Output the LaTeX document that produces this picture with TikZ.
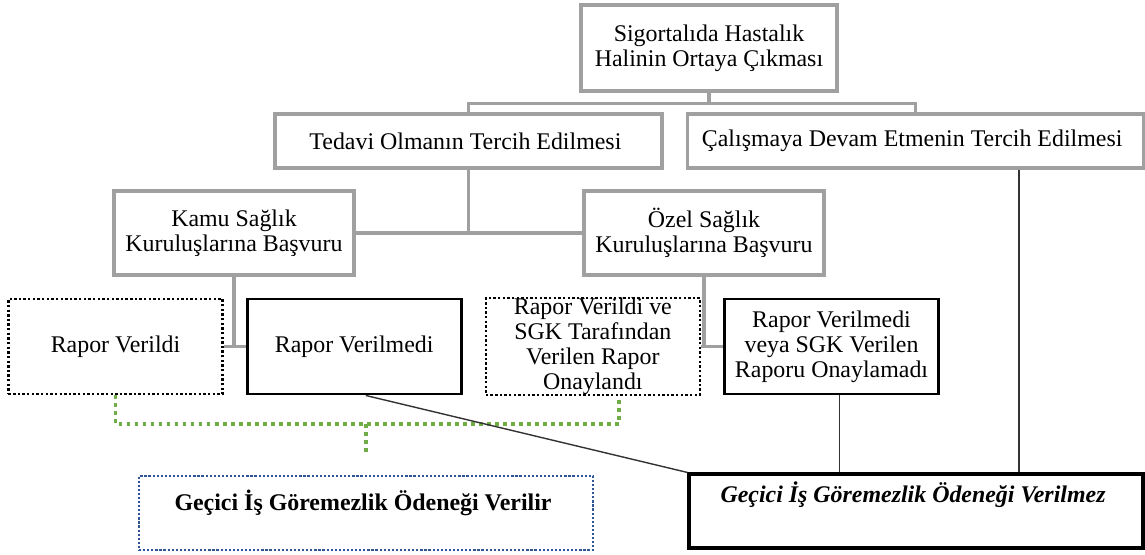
\documentclass[tikz,border=0pt]{standalone}
\usepackage{fontspec}
\setmainfont{Liberation Serif}
\usepackage{xcolor}
\usepackage{tikz}
\usetikzlibrary{positioning, calc}
\definecolor{FrameGray}{HTML}{A0A0A0}
\definecolor{PaidGreen}{HTML}{70AD47}
\definecolor{PaidBlue}{HTML}{2F5597}

\begin{document}
\begin{tikzpicture}[
    box/.style={
      align=center, inner sep=0pt, font=\fontsize{17}{17.8}\selectfont
    },
    graybox/.style={box, draw=FrameGray, line width=2.3pt},
    repbox/.style={box, minimum width=5.35cm, minimum height=2.375cm},
    blackbox/.style={repbox, draw=black, line width=2.1pt},
    dotbox/.style={repbox, draw=black, line width=1.7pt, dash pattern=on 1.7pt off 1.6pt},
    result/.style={
      box, minimum width=11.35cm, minimum height=1.85cm, text height=12pt
    },
    link/.style={draw=FrameGray, line width=2.3pt},
    lead/.style={draw=black!80, line width=1pt},
    paid/.style={draw=PaidGreen, line width=2.7pt, dash pattern=on 2.7pt off 3pt}
  ]
    \useasboundingbox (0,0) rectangle (28.625,-13.85);

    \node[graybox, minimum width=6.4cm, minimum height=2.15cm] (hastalik) at (17.725,-1.2) {
      Sigortalıda Hastalık\\Halinin Ortaya Çıkması
    };
    \node[graybox, minimum width=9.675cm, minimum height=1.35cm] (tedavi) at (11.71,-3.525) {
      Tedavi Olmanın Tercih Edilmesi
    };
    \node[graybox, minimum width=11.4cm, minimum height=1.35cm, right=0.55cm of tedavi] (calisma) {
      Çalışmaya Devam Etmenin Tercih Edilmesi
    };
    \node[graybox, minimum width=6cm, minimum height=2.1cm] (kamu) at (5.85,-5.825) {
      Kamu Sağlık\\Kuruluşlarına Başvuru
    };
    \node[graybox, minimum width=6cm, minimum height=2.1cm] (ozel) at (17.6,-5.825) {
      Özel Sağlık\\Kuruluşlarına Başvuru
    };

    \node[dotbox] (r1) at (2.8875,-8.6625) {Rapor Verildi};
    \node[blackbox, right=0.55cm of r1] (r2) {Rapor Verilmedi};
    \node[dotbox, right=0.55cm of r2] (r3) {
      Rapor Verildi ve\\SGK Tarafından\\Verilen Rapor\\Onaylandı
    };
    \node[blackbox, right=0.55cm of r3] (r4) {
      Rapor Verilmedi\\veya SGK Verilen\\Raporu Onaylamadı
    };

    \node[result, draw=PaidBlue, line width=1.6pt, dash pattern=on 1.6pt off 1.3pt,
      text depth=16pt, font=\fontsize{17}{17.8}\selectfont\bfseries] (verilir) at (9.15,-12.825) {
      Geçici İş Göremezlik Ödeneği Verilir
    };
    \node[result, draw=black, line width=2.2pt, text depth=24pt,
      font=\fontsize{17}{17.8}\selectfont\bfseries\itshape] (verilmez) at (22.9,-12.775) {
      Geçici İş Göremezlik Ödeneği Verilmez
    };

    \coordinate (top) at ($(hastalik.south)+(0,-0.275)$);
    \draw[link] (hastalik.south) -- (top);
    \draw[link] (tedavi.north) |- (top) -| (calisma.north);
    \draw[link] (kamu.east) -- (ozel.west);
    \draw[link] (tedavi.south) -- (tedavi.south |- kamu.east);
    \draw[link] (r1.east) -- (r2.west);
    \draw[link] (kamu.south) -- (kamu.south |- r1.east);
    \draw[link] (r3.east) -- (r4.west);
    \draw[link] (ozel.south) -- (ozel.south |- r3.east);

    \coordinate (g) at ($(r1.south)+(0,-0.725)$);
    \draw[paid] (r1.south) -- (g) -| ($(r3.south)+(0.66,0)$);
    \draw[paid] (verilir.north |- g) -- ++(0,-0.725);

    \coordinate (r2b) at ($(r2.south)+(0.29,0)$);
    \coordinate (r4b) at ($(r4.south)+(0.2,0)$);
    \coordinate (cb) at ($(calisma.south)+(2.6,0)$);
    \draw[lead] (r2b) -- (verilmez.north west);
    \draw[lead] (r4b) -- (r4b |- verilmez.north);
    \draw[lead] (cb) -- (cb |- verilmez.north);
  \end{tikzpicture}
\end{document}
